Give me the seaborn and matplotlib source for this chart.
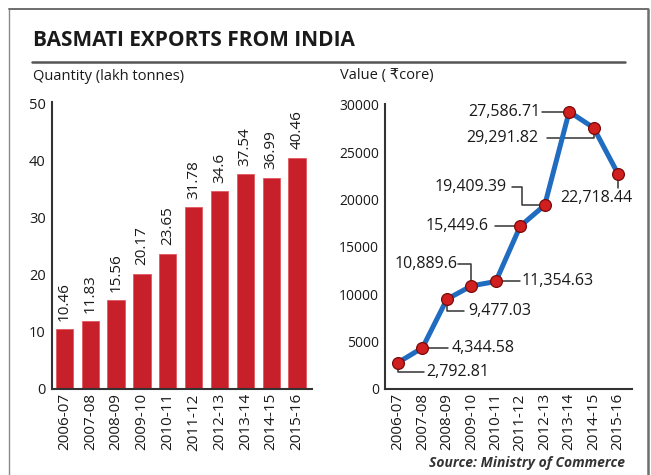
import matplotlib
matplotlib.use("Agg")
import matplotlib.pyplot as plt
from matplotlib.lines import Line2D
import seaborn as sns
import pandas as pd
import numpy as np

# ---------------- data ----------------
years = ["2006-07", "2007-08", "2008-09", "2009-10", "2010-11",
         "2011-12", "2012-13", "2013-14", "2014-15", "2015-16"]
quantity = [10.46, 11.83, 15.56, 20.17, 23.65, 31.78, 34.6, 37.54, 36.99, 40.46]
quantity_labels = ["10.46", "11.83", "15.56", "20.17", "23.65",
                   "31.78", "34.6", "37.54", "36.99", "40.46"]
value = [2792.81, 4344.58, 9477.03, 10889.6, 11354.63,
         17200, 19409.39, 29291.82, 27586.71, 22718.44]
value_labels = ["2,792.81", "4,344.58", "9,477.03", "10,889.6", "11,354.63",
                "15,449.6", "19,409.39", "27,586.71", "29,291.82", "22,718.44"]

# label layout: (dx, dy, ha) for text; leader path vertices relative to the point
label_layout = [
    (1.15, -1000, "left",  [(0, 0), (0, -1000), (1.05, -1000)]),
    (1.20, 0,     "left",  [(0, 0), (1.05, 0)]),
    (0.88, -1200, "left",  [(0, 0), (0, -1200), (0.72, -1200)]),
    (-0.58, 2320, "right", [(-0.53, 2320), (0, 2320), (0, 0)]),
    (1.07, 0,     "left",  [(0, 0), (0.98, 0)]),
    (-1.30, 0,    "right", [(-1.05, 0), (0, 0)]),
    (-1.55, 1975, "right", [(-1.34, 1975), (-0.93, 1975), (-0.93, 0), (0, 0)]),
    (-1.18, 0,    "right", [(-1.11, 0), (0, 0)]),
    (-2.25, -1090, "right", [(-1.91, -1090), (0, -1090), (0, 0)]),
    (-2.35, -2500, "left", [(0, 0), (0, -1500)]),
]

df_q = pd.DataFrame({"year": years, "quantity": quantity})
df_v = pd.DataFrame({"idx": np.arange(len(years)), "value": value})

sns.set_theme(style="white")
plt.rcParams["font.family"] = ["Open Sans", "DejaVu Sans"]

W, H = 651, 475
fig = plt.figure(figsize=(W / 100, H / 100), dpi=100)
fig.patch.set_facecolor("white")

def fx(px):
    return px / W

def fy(py):
    return 1 - py / H

# frame
fig.add_artist(Line2D([fx(9), fx(9)], [fy(9), fy(476)], color="#8a8a8a", lw=1.0))
fig.add_artist(Line2D([fx(9), fx(648)], [fy(9), fy(9)], color="#6e6e6e", lw=1.4))
fig.add_artist(Line2D([fx(648), fx(648)], [fy(9), fy(476)], color="#6e6e6e", lw=1.8))
# rule under title
fig.add_artist(Line2D([fx(32), fx(625)], [fy(61.5), fy(61.5)], color="#555555", lw=1.8))

fig.text(fx(33), fy(41), "BASMATI EXPORTS FROM INDIA", fontsize=15, fontweight="bold",
         color="#1a1a1a", ha="left", va="center")
fig.text(fx(33), fy(76), "Quantity (lakh tonnes)", fontsize=10.5, color="#1a1a1a",
         ha="left", va="center")
fig.text(fx(340), fy(76), "Value ( \u20b9core)", fontsize=10.5, color="#1a1a1a",
         ha="left", va="center", family=["Open Sans", "DejaVu Sans"])
fig.text(fx(625), fy(463), "Source: Ministry of Commerce", fontsize=10,
         fontweight="bold", fontstyle="italic", color="#333333", ha="right", va="center")

axis_col = "#333333"

def style_axes(ax):
    for s in ["top", "right"]:
        ax.spines[s].set_visible(False)
    for s in ["left", "bottom"]:
        ax.spines[s].set_color(axis_col)
        ax.spines[s].set_linewidth(1.5)
    ax.set_xlabel("")
    ax.set_ylabel("")
    ax.grid(False)
    ax.set_facecolor("white")
    ax.tick_params(axis="x", which="major", length=0, pad=3, labelsize=11,
                   labelrotation=90, colors="#1a1a1a")
    ax.set_xticks(np.arange(len(years)) + 0.5, minor=True)
    ax.tick_params(axis="x", which="minor", direction="in", length=4,
                   width=1.0, color="#777777")
    ax.tick_params(axis="y", direction="inout", length=5, width=1.0,
                   color="#777777", pad=2, labelcolor="#1a1a1a")

# ---------------- left: quantity bars ----------------
ax1 = fig.add_axes([fx(52), fy(389), fx(312) - fx(52), fy(102) - fy(389)])
sns.barplot(data=df_q, x="year", y="quantity", color="#c8202a", width=0.67,
            saturation=1, ax=ax1, edgecolor="#e05a60", linewidth=0.6)
ax1.set_xlim(-0.48, 9.58)
ax1.set_ylim(0, 50.2)
ax1.set_yticks([0, 10, 20, 30, 40, 50])
style_axes(ax1)
ax1.tick_params(axis="y", labelsize=10.5)
for i, (q, lab) in enumerate(zip(quantity, quantity_labels)):
    ax1.annotate(lab, (i, q), xytext=(0, 6), textcoords="offset points",
                 rotation=90, ha="center", va="bottom", fontsize=11, color="#1a1a1a")

# ---------------- right: value line ----------------
ax2 = fig.add_axes([fx(385), fy(389), fx(632) - fx(385), fy(104) - fy(389)])
for i, (v, lab, lay) in enumerate(zip(value, value_labels, label_layout)):
    dx, dy, ha, path = lay
    xs = [i + p[0] for p in path]
    ys = [v + p[1] for p in path]
    ax2.plot(xs, ys, color="#333333", lw=1.1, zorder=1)
    ax2.text(i + dx, v + dy, lab, ha=ha, va="center", fontsize=11.5, color="#1a1a1a")
sns.lineplot(data=df_v, x="idx", y="value", color="#1f6cc0", lw=3.6, ax=ax2,
             marker="o", markersize=8.5, markerfacecolor="#d01f1f",
             markeredgecolor="#7a0a0a", markeredgewidth=0.9, zorder=3)
ax2.set_xlim(-0.53, 9.57)
ax2.set_ylim(0, 30100)
ax2.set_xticks(np.arange(len(years)))
ax2.set_xticklabels(years)
ax2.set_yticks([0, 5000, 10000, 15000, 20000, 25000, 30000])
ax2.set_yticklabels(["0", "5000", "10000", "15000", "20000", "25000", "30000"])
style_axes(ax2)
ax2.tick_params(axis="y", labelsize=10)

fig.savefig("out.png", dpi=100, facecolor="white")
